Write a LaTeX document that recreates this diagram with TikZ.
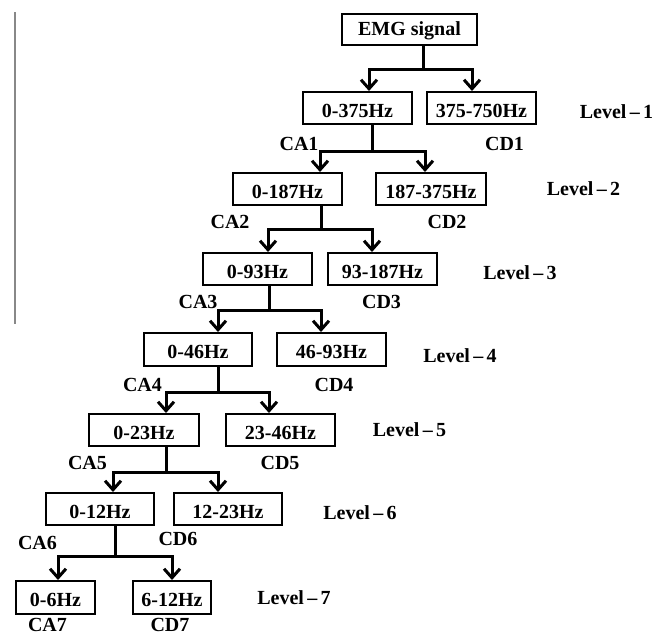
\documentclass[tikz,border=0pt]{standalone}
\usepackage{fontspec}
\setmainfont{Liberation Serif}
\usetikzlibrary{arrows.meta}
\definecolor{barcol}{HTML}{888888}
\begin{document}
\begin{tikzpicture}[x=1pt,y=-1pt,
  box/.style={draw,line width=2pt,inner sep=0pt,minimum height=32pt,text height=18.5pt,text depth=0pt,font=\fontsize{20}{20}\selectfont\bfseries},
  lbl/.style={inner sep=0pt,font=\fontsize{20}{20}\selectfont\bfseries},
  conn/.style={line width=3pt},
  arr/.style={line width=3pt,-{Straight Barb[length=9pt,width=16pt]}}]
\useasboundingbox (0,0) rectangle (671,637);
\clip (0,0) rectangle (671,637);
% side bar
\coordinate (bart) at (15,12);
\coordinate (barb) at (15,324);
\draw[line width=2pt,barcol] (bart) -- (barb);
% boxes
\node[box,minimum width=135pt,minimum height=31pt,text height=16pt,text depth=4pt] (emg) at (409.5,29.5) {EMG signal};
\node[box,minimum width=109pt] (a1) at (357.5,108) {0-375Hz};
\node[box,minimum width=109pt] (d1) at (481.5,108) {375-750Hz};
\node[box,minimum width=109pt] (a2) at (287.5,189) {0-187Hz};
\node[box,minimum width=110pt] (d2) at (431,189) {187-375Hz};
\node[box,minimum width=109pt] (a3) at (257.5,269) {0-93Hz};
\node[box,minimum width=109pt] (d3) at (382.5,269) {93-187Hz};
\node[box,minimum width=108pt,minimum height=33pt] (a4) at (198,349.5) {0-46Hz};
\node[box,minimum width=109pt,minimum height=33pt] (d4) at (331.5,349.5) {46-93Hz};
\node[box,minimum width=110pt] (a5) at (144,430) {0-23Hz};
\node[box,minimum width=109pt] (d5) at (280.5,430) {23-46Hz};
\node[box,minimum width=108pt] (a6) at (100,509) {0-12Hz};
\node[box,minimum width=108pt] (d6) at (228,509) {12-23Hz};
\node[box,minimum width=79pt,minimum height=33pt] (a7) at (55.5,597.5) {0-6Hz};
\node[box,minimum width=78pt,minimum height=33pt] (d7) at (172,597.5) {6-12Hz};
% level labels
\node[lbl] (lv1) at (616.5,112) {Level\,--\,1};
\node[lbl] (lv2) at (583.5,189) {Level\,--\,2};
\node[lbl] (lv3) at (520,273) {Level\,--\,3};
\node[lbl] (lv4) at (460,356) {Level\,--\,4};
\node[lbl] (lv5) at (409.5,430) {Level\,--\,5};
\node[lbl] (lv6) at (360,513) {Level\,--\,6};
\node[lbl] (lv7) at (294,598) {Level\,--\,7};
% coefficient labels
\node[lbl] (ca1) at (299,144) {CA1};
\node[lbl] (cd1) at (504.5,144) {CD1};
\node[lbl] (ca2) at (230,222) {CA2};
\node[lbl] (cd2) at (447,222) {CD2};
\node[lbl] (ca3) at (198,302) {CA3};
\node[lbl] (cd3) at (381.5,302) {CD3};
\node[lbl] (ca4) at (142.5,385) {CA4};
\node[lbl] (cd4) at (334,385) {CD4};
\node[lbl] (ca5) at (87.5,463) {CA5};
\node[lbl] (cd5) at (280,463) {CD5};
\node[lbl] (ca6) at (37.5,543) {CA6};
\node[lbl] (cd6) at (178,539) {CD6};
\node[lbl] (ca7) at (47.5,625) {CA7};
\node[lbl] (cd7) at (170,625) {CD7};
% junction coordinates
\coordinate (j1) at (423,69);  \coordinate (l1) at (369,69);  \coordinate (r1) at (472,69);
\coordinate (j2) at (372,151); \coordinate (l2) at (320,151); \coordinate (r2) at (425,151);
\coordinate (j3) at (321,229); \coordinate (l3) at (268,229); \coordinate (r3) at (372,229);
\coordinate (j4) at (269,310); \coordinate (l4) at (218,310); \coordinate (r4) at (321,310);
\coordinate (j5) at (218,392); \coordinate (l5) at (166,392); \coordinate (r5) at (269,392);
\coordinate (j6) at (166,472); \coordinate (l6) at (113,472); \coordinate (r6) at (218,472);
\coordinate (j7) at (115,556); \coordinate (l7) at (58,556);  \coordinate (r7) at (172,556);
% connectors
\foreach \p/\n in {emg/1,a1/2,a2/3,a3/4,a4/5,a5/6,a6/7}{
  \draw[conn] (\p.south -| j\n) -- (j\n);
  \draw[arr] (j\n) -- (l\n) -- (l\n |- a\n.north);
  \draw[arr] (j\n) -- (r\n) -- (r\n |- d\n.north);
}
\end{tikzpicture}
\end{document}
